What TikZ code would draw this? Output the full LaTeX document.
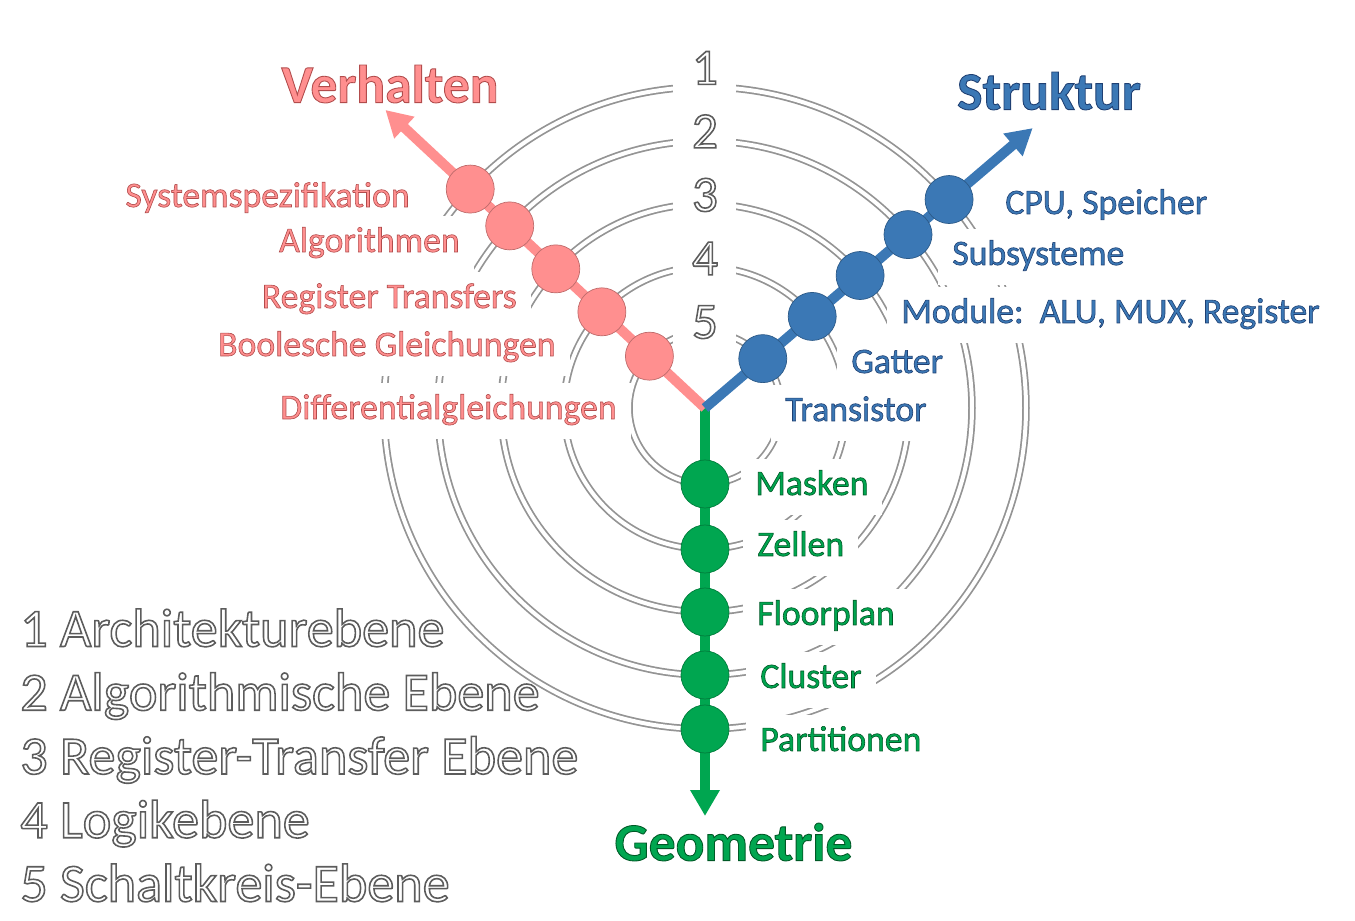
\documentclass[tikz,border=0pt]{standalone}
\usepackage{fontspec}
\setmainfont{Carlito}
\usetikzlibrary{arrows.meta}
\definecolor{myred}{HTML}{FF8F8F}
\definecolor{myblue}{HTML}{3B78B5}
\definecolor{mygreen}{HTML}{00A650}
% outlined text: #1 = stroke colour and width as pdf operators
\newcommand{\glow}[2]{\special{pdf:literal direct #1 2 Tr}#2\special{pdf:literal direct 0 Tr}}
\tikzset{
  ring/.style={white, line width=0.8mm},
  ringshade/.style={black!42, line width=1.5mm},
  axis/.style={line width=2mm, -{Triangle[length=5.2mm,width=5.6mm]}},
  dot/.style={circle, minimum size=9.6mm, inner sep=0pt, line width=0.4pt},
  lab/.style={fill=white, font=\fontsize{20.3}{20.3}\selectfont, inner xsep=2.8mm, inner ysep=2.3mm,
              text height=14.2pt, text depth=5.1pt},
  title/.style={font=\fontsize{30.5}{30.5}\selectfont\bfseries, text height=19.5pt, text depth=0pt, inner sep=0pt},
  num/.style={fill=white, font=\fontsize{29}{29}\selectfont, text=white, minimum width=12.6mm,
              text height=18.6pt, text depth=0pt, inner ysep=1.8mm},
  legend/.style={font=\fontsize{30.8}{30.8}\selectfont, text=white, inner sep=0pt},
}
\newcommand{\rtxt}[1]{\glow{0.7 0.3 0.3 RG 0.35 w}{#1}}
\newcommand{\btxt}[1]{\glow{0.12 0.25 0.45 RG 0.35 w}{#1}}
\newcommand{\gtxt}[1]{\glow{0 0.35 0.15 RG 0.35 w}{#1}}
\newcommand{\wtxt}[1]{\glow{0.36 G 0.9 w}{#1}}

\begin{document}
\begin{tikzpicture}
  \useasboundingbox (-14.1,-10.26) rectangle (13.0,8.16);
  \coordinate (o) at (0,0);
  % rings of the levels
  \foreach \r in {1.52,2.82,4.08,5.34,6.42}{
    \draw[ringshade] (o) circle (\r);
    \draw[ring] (o) circle (\r);
  }
  \foreach \i in {1,...,5}
    \node[num] (n\i) at (0,{6.8-1.27*(\i-1)}) {\wtxt{\i}};

  % Verhalten
  \node[lab, anchor=east, text=myred] (sys) at (-5.62,4.18) {\rtxt{Systemspezifikation}};
  \node[lab, anchor=east, text=myred] (alg) at (-4.62,3.28) {\rtxt{Algorithmen}};
  \node[lab, anchor=east, text=myred] (rtl) at (-3.48,2.16) {\rtxt{Register Transfers}};
  \node[lab, anchor=east, text=myred] (bool) at (-2.70,1.20) {\rtxt{Boolesche Gleichungen}};
  \node[lab, anchor=east, text=myred] (diff) at (-1.48,-0.06) {\rtxt{Differentialgleichungen}};
  % Struktur
  \node[lab, anchor=west, text=myblue] (cpu) at (5.72,4.04) {\btxt{CPU, Speicher}};
  \node[lab, anchor=west, text=myblue] (subs) at (4.66,3.02) {\btxt{Subsysteme}};
  \node[lab, anchor=west, text=myblue] (mod) at (3.64,1.86) {\btxt{Module:\ \ ALU, MUX, Register}};
  \node[lab, anchor=west, text=myblue] (gat) at (2.64,0.86) {\btxt{Gatter}};
  \node[lab, anchor=west, text=myblue] (tra) at (1.32,-0.10) {\btxt{Transistor}};
  % Geometrie
  \node[lab, anchor=west, text=mygreen] (mask) at (0.72,-1.58) {\gtxt{Masken}};
  \node[lab, anchor=west, text=mygreen] (zel) at (0.76,-2.80) {\gtxt{Zellen}};
  \node[lab, anchor=west, text=mygreen] (flp) at (0.76,-4.18) {\gtxt{Floorplan}};
  \node[lab, anchor=west, text=mygreen] (clu) at (0.82,-5.44) {\gtxt{Cluster}};
  \node[lab, anchor=west, text=mygreen] (par) at (0.82,-6.70) {\gtxt{Partitionen}};

  % axes
  \coordinate (gtip) at (0,-8.16);
  \coordinate (vtip) at (137:8.74);
  \coordinate (stip) at (40.5:8.62);
  \draw[axis, mygreen] (0,0.1) -- (gtip);
  \draw[axis, myred] (o) -- (vtip);
  \draw[axis, myblue] (o) -- (stip);
  \foreach \r [count=\i] in {1.52,2.82,4.08,5.34,6.42}{
    \node[dot, fill=myred, draw=myred!75!black] (v\i) at (137:\r) {};
    \node[dot, fill=myblue, draw=myblue!75!black] (s\i) at (40.5:\r) {};
    \node[dot, fill=mygreen, draw=mygreen!75!black] (g\i) at (270:\r) {};
  }

  \node[title, text=myred] (verh) at (-6.3,6.45) {\glow{0.7 0.3 0.3 RG 0.5 w}{Verhalten}};
  \node[title, text=myblue] (strk) at (6.88,6.31) {\glow{0.12 0.25 0.45 RG 0.5 w}{Struktur}};
  \node[title, text=mygreen] (geom) at (0.57,-8.71) {\glow{0 0.35 0.15 RG 0.5 w}{Geometrie}};

  % legend
  \foreach \t [count=\i] in {Architekturebene, Algorithmische Ebene, Register-Transfer Ebene,
                             Logikebene, Schaltkreis-Ebene}
    \node[legend, anchor=base west] (leg\i) at (-13.7,{-4.77-1.275*(\i-1)}) {\wtxt{\i\ \t}};
\end{tikzpicture}
\end{document}
